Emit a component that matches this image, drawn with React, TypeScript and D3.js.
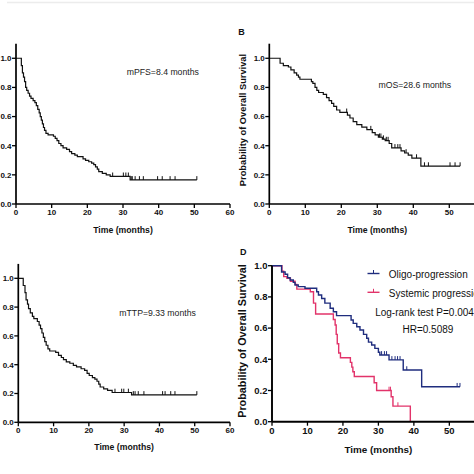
import React from "react";
import * as d3 from "d3";

// ---------- DATA ----------
// Panel A: progression-free survival
const pfsTime = [0, 1.5, 1.8, 2.1, 2.4, 2.7, 3.0, 3.4, 3.8, 4.2, 4.8, 5.3, 5.7, 6.1, 6.5, 6.8, 7.1, 7.4, 7.7, 8.0, 8.4, 9.0, 10.5, 11.0, 11.5, 12.0, 12.6, 13.2, 14.2, 15.0, 15.6, 16.5, 17.2, 18.8, 19.5, 20.4, 21.2, 21.8, 22.3, 22.8, 23.2, 24.2, 25.3, 26.4, 32.0];
const pfsSurv = [1.0, 0.95, 0.9, 0.87, 0.84, 0.8, 0.78, 0.76, 0.74, 0.725, 0.71, 0.695, 0.675, 0.65, 0.625, 0.6, 0.575, 0.55, 0.525, 0.505, 0.485, 0.475, 0.465, 0.45, 0.435, 0.415, 0.4, 0.385, 0.375, 0.36, 0.345, 0.335, 0.325, 0.31, 0.3, 0.29, 0.28, 0.27, 0.255, 0.24, 0.222, 0.21, 0.2, 0.19, 0.165];
const pfsCensor = [27.1, 30.1, 30.8, 31.5, 32.3, 32.6, 33.4, 34.6, 35.7, 39.7, 41.0, 43.2, 44.6, 50.7];
const pfsEnd = 50.7;

// Panel B: overall survival
const osTime = [0, 3.0, 3.9, 5.3, 6.0, 6.9, 7.6, 8.1, 8.5, 11.7, 12.1, 12.7, 13.2, 13.7, 15.0, 15.9, 16.6, 17.3, 17.9, 18.7, 19.6, 21.7, 22.4, 23.3, 24.3, 25.7, 27.1, 28.6, 29.4, 30.3, 31.4, 32.2, 33.3, 34.0, 36.6, 37.6, 38.6, 39.6, 42.1];
const osSurv = [1.0, 0.966, 0.95, 0.94, 0.92, 0.9, 0.885, 0.87, 0.856, 0.84, 0.828, 0.8, 0.78, 0.765, 0.752, 0.73, 0.71, 0.69, 0.67, 0.645, 0.629, 0.61, 0.59, 0.565, 0.545, 0.527, 0.51, 0.49, 0.475, 0.458, 0.445, 0.435, 0.415, 0.385, 0.365, 0.35, 0.335, 0.315, 0.26];
const osCensor = [21.5, 28.2, 30.6, 31.0, 31.7, 32.5, 33.0, 34.9, 35.7, 36.3, 38.0, 40.9, 43.1, 44.2, 50.2, 51.6, 53.0];
const osEnd = 53.0;

// Panel C: time to progression
const ttpTime = [0, 1.4, 1.9, 2.2, 2.6, 2.9, 3.4, 4.0, 4.4, 5.4, 5.9, 6.3, 6.7, 7.1, 7.5, 7.9, 8.4, 8.9, 10.6, 11.4, 12.2, 12.8, 13.6, 14.6, 15.6, 16.5, 17.8, 18.8, 19.5, 20.1, 21.0, 21.7, 22.3, 22.8, 23.2, 24.2, 25.3, 26.6, 32.1];
const ttpSurv = [1.0, 0.95, 0.9, 0.85, 0.82, 0.79, 0.76, 0.735, 0.72, 0.7, 0.675, 0.65, 0.62, 0.59, 0.56, 0.535, 0.51, 0.495, 0.485, 0.465, 0.45, 0.435, 0.42, 0.41, 0.395, 0.385, 0.372, 0.36, 0.34, 0.325, 0.31, 0.3, 0.285, 0.265, 0.245, 0.232, 0.222, 0.207, 0.19];
const ttpCensor = [27.4, 29.3, 29.9, 31.2, 32.6, 33.1, 34.0, 35.6, 40.9, 41.6, 43.2, 44.4, 50.6];
const ttpEnd = 50.6;

// Panel D: oligo-progression vs systemic progression
const oligoTime = [0, 2.7, 3.7, 4.4, 5.1, 6.0, 6.5, 7.4, 9.3, 12.6, 13.1, 14.0, 14.9, 16.4, 17.3, 18.2, 22.3, 22.9, 23.9, 24.8, 25.8, 26.7, 27.2, 28.1, 29.0, 30.0, 30.4, 33.0, 37.0, 42.2];
const oligoSurv = [1.0, 0.96, 0.945, 0.923, 0.908, 0.893, 0.876, 0.866, 0.855, 0.833, 0.812, 0.79, 0.76, 0.727, 0.705, 0.68, 0.652, 0.63, 0.609, 0.588, 0.56, 0.535, 0.51, 0.492, 0.47, 0.445, 0.428, 0.396, 0.331, 0.224];
const oligoCensor = [30.9, 31.7, 32.3, 33.8, 34.7, 35.4, 36.1, 38.0, 52.2, 53.0];
const oligoEnd = 53.0;

const systemicTime = [0, 2.8, 3.3, 4.2, 5.2, 6.5, 7.0, 10.8, 11.7, 12.3, 17.3, 17.8, 18.1, 18.4, 18.8, 19.3, 22.1, 22.5, 22.8, 23.2, 28.8, 29.5, 33.6, 34.1, 39.0];
const systemicSurv = [1.0, 0.965, 0.93, 0.92, 0.9, 0.88, 0.85, 0.833, 0.76, 0.69, 0.655, 0.62, 0.56, 0.5, 0.44, 0.41, 0.38, 0.35, 0.32, 0.29, 0.25, 0.2, 0.16, 0.1, 0.0];
const systemicCensor = [33.0, 33.4, 35.5];
const systemicEnd = 39.0;

const xTicks = [0, 10, 20, 30, 40, 50, 60];
const yTicks = [0, 0.2, 0.4, 0.6, 0.8, 1.0];

const legendLabels = ["Oligo-progression", "Systemic progression"];
const statLabels = ["Log-rank test P=0.004", "HR=0.5089"];

// ---------- STYLE ----------
const FONT = "'Liberation Sans', Arial, Helvetica, sans-serif";
const BLUE = "#1f2d7e";
const RED = "#e2336a";
const W = 474;

type Series = { time: number[]; surv: number[]; censor: number[]; end: number; color: string; width: number };

function survAt(s: Series, t: number) {
  const i = d3.bisectRight(s.time, t) - 1;
  return s.surv[Math.max(0, i)];
}

function Panel(props: {
  xRange: [number, number];
  yRange: [number, number];
  yMax: number;
  series: Series[];
  tickFont: number;
  titleFont: number;
  xTitleY: number;
  yTitle?: { x: number; y: number; size: number };
  axisWidth: number;
}) {
  const { xRange, yRange, yMax, series, tickFont, titleFont, xTitleY, yTitle, axisWidth } = props;
  const x = d3.scaleLinear().domain([0, 60]).range(xRange);
  const y = d3.scaleLinear().domain([0, yMax]).range(yRange);
  const fmt = d3.format(".1f");
  const line = d3
    .line<[number, number]>()
    .x((d) => x(d[0]))
    .y((d) => y(d[1]))
    .curve(d3.curveStepAfter);
  const x0 = xRange[0];
  const y0 = yRange[0];
  const visibleX = xTicks.filter((t) => x(t) + 4 < W);
  return (
    <g>
      {series.map((s, k) => {
        const pts: [number, number][] = s.time.map((t, i) => [t, s.surv[i]] as [number, number]);
        const last = s.time[s.time.length - 1];
        if (s.end > last) pts.push([s.end, s.surv[s.surv.length - 1]]);
        return (
          <g key={k}>
            <path d={line(pts) || ""} fill="none" stroke={s.color} strokeWidth={s.width} />
            {s.censor.map((c, j) => {
              const cy = y(survAt(s, c));
              return <line key={j} x1={x(c)} x2={x(c)} y1={cy - 3.8} y2={cy} stroke={s.color} strokeWidth={1} />;
            })}
          </g>
        );
      })}
      {/* axes */}
      <line x1={x0} x2={Math.min(xRange[1], W)} y1={y0} y2={y0} stroke="#000" strokeWidth={axisWidth} />
      <line x1={x0} x2={x0} y1={y0} y2={yRange[1]} stroke="#000" strokeWidth={axisWidth} />
      {visibleX.map((t) => (
        <g key={"x" + t}>
          <line x1={x(t)} x2={x(t)} y1={y0} y2={y0 + 4} stroke="#000" strokeWidth={1.3} />
          <text x={x(t)} y={y0 + 5.5} dy="0.71em" textAnchor="middle" fontSize={tickFont} fontWeight="bold" fontFamily={FONT} fill="#111">
            {t}
          </text>
        </g>
      ))}
      {yTicks.map((t) => (
        <g key={"y" + t}>
          <line x1={x0 - 4} x2={x0} y1={y(t)} y2={y(t)} stroke="#000" strokeWidth={1.3} />
          <text x={x0 - 4.5} y={y(t)} dy="0.35em" textAnchor="end" fontSize={tickFont} fontWeight="bold" fontFamily={FONT} fill="#111">
            {fmt(t)}
          </text>
        </g>
      ))}
      <text x={(xRange[0] + xRange[1]) / 2} y={xTitleY} textAnchor="middle" fontSize={titleFont} fontWeight="bold" fontFamily={FONT} fill="#111">
        Time (months)
      </text>
      {yTitle && (
        <text
          transform={`translate(${yTitle.x},${yTitle.y}) rotate(-90)`}
          textAnchor="middle"
          fontSize={yTitle.size}
          fontWeight="bold"
          fontFamily={FONT}
          fill="#111"
        >
          Probability of Overall Survival
        </text>
      )}
    </g>
  );
}

export default function App() {
  const black = (time: number[], surv: number[], censor: number[], end: number): Series => ({ time, surv, censor, end, color: "#111", width: 1.2 });
  return (
    <svg width={W} height={474} style={{ position: "absolute", left: 0, top: 0, background: "#fff" }}>
      <rect x={0} y={0} width={W} height={474} fill="#fff" />
      <line x1={7} x2={W} y1={2.5} y2={2.5} stroke="#ececec" strokeWidth={1.5} />

      {/* A */}
      <Panel
        xRange={[16, 230]}
        yRange={[204, 43.7]}
        yMax={1.1}
        series={[black(pfsTime, pfsSurv, pfsCensor, pfsEnd)]}
        tickFont={8}
        titleFont={8.7}
        xTitleY={232.7}
        axisWidth={1.7}
      />
      <text x={126.7} y={75} fontSize={8.7} fontFamily={FONT} fill="#222">mPFS=8.4 months</text>

      {/* B */}
      <text x={238.3} y={35} fontSize={9} fontWeight="bold" fontFamily={FONT} fill="#111">B</text>
      <Panel
        xRange={[269.3, 485.3]}
        yRange={[204, 43.7]}
        yMax={1.1}
        series={[black(osTime, osSurv, osCensor, osEnd)]}
        tickFont={8}
        titleFont={8.7}
        xTitleY={232.7}
        yTitle={{ x: 245.5, y: 120, size: 9.3 }}
        axisWidth={1.7}
      />
      <text x={378.5} y={88.3} fontSize={8.7} fontFamily={FONT} fill="#222">mOS=28.6 months</text>

      {/* C */}
      <Panel
        xRange={[18.3, 230]}
        yRange={[422.3, 263.9]}
        yMax={1.1}
        series={[black(ttpTime, ttpSurv, ttpCensor, ttpEnd)]}
        tickFont={8}
        titleFont={8.7}
        xTitleY={450}
        axisWidth={1.7}
      />
      <text x={119.3} y={315.7} fontSize={8.7} fontFamily={FONT} fill="#222">mTTP=9.33 months</text>

      {/* D */}
      <text x={240} y={255} fontSize={9} fontWeight="bold" fontFamily={FONT} fill="#111">D</text>
      <Panel
        xRange={[272, 484.8]}
        yRange={[421.7, 265.7]}
        yMax={1.0}
        series={[
          { time: systemicTime, surv: systemicSurv, censor: systemicCensor, end: systemicEnd, color: RED, width: 1.4 },
          { time: oligoTime, surv: oligoSurv, censor: oligoCensor, end: oligoEnd, color: BLUE, width: 1.4 },
        ]}
        tickFont={9.5}
        titleFont={9.9}
        xTitleY={453.3}
        yTitle={{ x: 246, y: 341, size: 10.8 }}
        axisWidth={1.9}
      />
      {/* legend */}
      <line x1={367.5} x2={379.5} y1={273.5} y2={273.5} stroke={BLUE} strokeWidth={1.4} />
      <line x1={373.5} x2={373.5} y1={270} y2={273.5} stroke={BLUE} strokeWidth={1} />
      <text x={388.8} y={277.5} fontSize={10} fontFamily={FONT} fill="#111">{legendLabels[0]}</text>
      <line x1={367.5} x2={379.5} y1={292.3} y2={292.3} stroke={RED} strokeWidth={1.4} />
      <line x1={373.5} x2={373.5} y1={288.8} y2={292.3} stroke={RED} strokeWidth={1} />
      <text x={388.8} y={296.7} fontSize={10} fontFamily={FONT} fill="#111">{legendLabels[1]}</text>
      <text x={375.2} y={315.7} fontSize={10} fontFamily={FONT} fill="#111">{statLabels[0]}</text>
      <text x={402.5} y={333.3} fontSize={10} fontFamily={FONT} fill="#111">{statLabels[1]}</text>
    </svg>
  );
}
